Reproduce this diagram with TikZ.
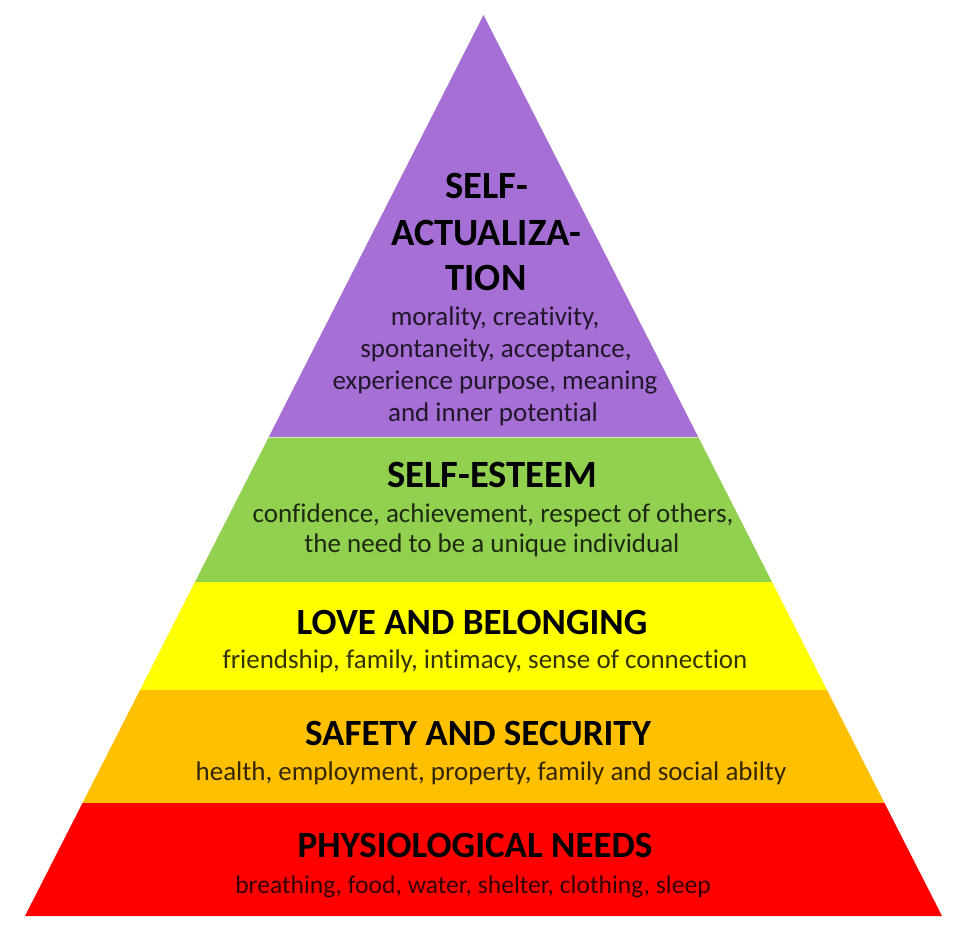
\documentclass[tikz,border=0pt]{standalone}
\usepackage{fontspec}
\setmainfont{Carlito}[Ligatures=NoCommon]
\usetikzlibrary{calc}
\definecolor{cpurple}{HTML}{A66FD5}
\definecolor{cgreen}{HTML}{92D050}
\definecolor{cyellow}{HTML}{FFFF00}
\definecolor{corange}{HTML}{FFC000}
\definecolor{cred}{HTML}{FF0000}
\tikzset{
  head/.style={anchor=base, inner sep=0pt, font=\fontsize{37}{44}\selectfont\bfseries, text=black},
  bighead/.style={head, font=\fontsize{38.6}{44}\selectfont\bfseries},
  body/.style={anchor=base, inner sep=0pt, font=\fontsize{27}{32}\selectfont, text=black, text opacity=0.8},
  smallbody/.style={body, font=\fontsize{25.6}{30}\selectfont}
}
\begin{document}
\begin{tikzpicture}[x=1pt,y=-1pt]
\useasboundingbox (0,0) rectangle (971,943);
\coordinate (A) at (483.5,15);
\coordinate (BL) at (25,916);
\coordinate (BR) at (942,916);
\coordinate (L1) at ($(A)!0.4684!(BL)$);
\coordinate (R1) at ($(A)!0.4684!(BR)$);
\coordinate (L2) at ($(A)!0.6293!(BL)$);
\coordinate (R2) at ($(A)!0.6293!(BR)$);
\coordinate (L3) at ($(A)!0.7492!(BL)$);
\coordinate (R3) at ($(A)!0.7492!(BR)$);
\coordinate (L4) at ($(A)!0.8746!(BL)$);
\coordinate (R4) at ($(A)!0.8746!(BR)$);
% layers
\fill[cpurple] (A) -- (R1) -- (L1) -- cycle;
\fill[cgreen] (L1) -- (R1) -- (R2) -- (L2) -- cycle;
\fill[cyellow] (L2) -- (R2) -- (R3) -- (L3) -- cycle;
\fill[corange] (L3) -- (R3) -- (R4) -- (L4) -- cycle;
\fill[cred] (L4) -- (R4) -- (BR) -- (BL) -- cycle;
\draw[white, line width=1pt, opacity=0.6] (L1) -- (R1);
% purple text
\node[bighead] (sa1) at (487,198) {SELF-};
\node[bighead] (sa2) at (486,245) {ACTUALIZA-};
\node[bighead] (sa3) at (486,290) {TION};
\node[body] (sa4) at (495,325) {morality, creativity,};
\node[body] (sa5) at (496,357) {spontaneity, acceptance,};
\node[body] (sa6) at (495,389) {experience purpose, meaning};
\node[body] (sa7) at (493,421) {and inner potential};
% green text
\node[bighead] (se1) at (492,487) {SELF-ESTEEM};
\node[body] (se2) at (493,522) {confidence, achievement, respect of others,};
\node[body] (se3) at (492,552) {the need to be a unique individual};
% yellow text
\node[head] (lb1) at (472,634) {LOVE AND BELONGING};
\node[body] (lb2) at (485,668) {friendship, family, intimacy, sense of connection};
% orange text
\node[head] (ss1) at (478,745) {SAFETY AND SECURITY};
\node[body] (ss2) at (491,780) {health, employment, property, family and social abilty};
% red text
\node[head] (pn1) at (475,857) {PHYSIOLOGICAL NEEDS};
\node[smallbody] (pn2) at (473,893) {breathing, food, water, shelter, clothing, sleep};
\end{tikzpicture}
\end{document}
